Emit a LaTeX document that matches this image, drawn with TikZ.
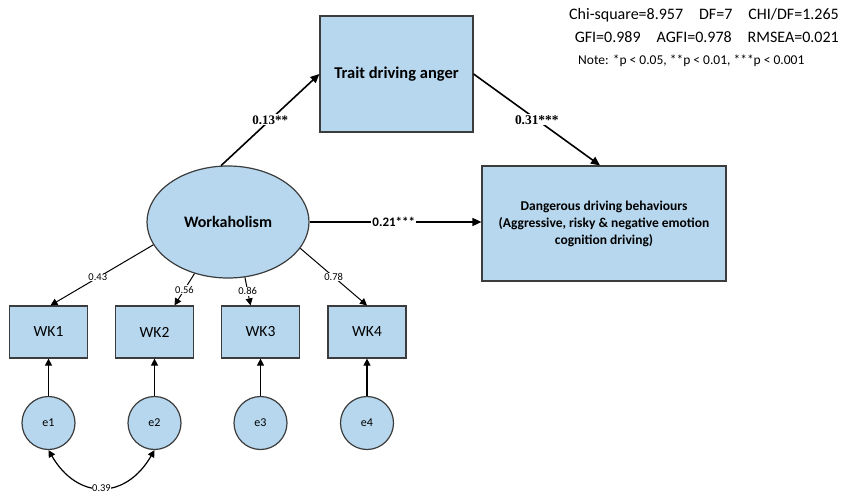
\documentclass[tikz,border=0pt]{standalone}
\usepackage{fontspec}
\setmainfont{Carlito}
\newfontfamily\serifb{Liberation Serif}
\usetikzlibrary{shapes.geometric,arrows.meta,calc}
\definecolor{boxfill}{RGB}{182,215,238}
\definecolor{boxline}{RGB}{60,60,60}
\tikzset{
  boxnode/.style={draw=boxline,line width=1.2pt,fill=boxfill,rectangle,inner sep=0pt,align=center},
  ovalnode/.style={draw=boxline,line width=1.2pt,fill=boxfill,ellipse,inner sep=0pt},
  errnode/.style={draw=boxline,line width=1.2pt,fill=boxfill,circle,inner sep=0pt,minimum size=53pt,font=\fontsize{12}{14}\selectfont},
  mainarrow/.style={draw=black,line width=1.6pt,-{Triangle[length=9pt,width=8pt]}},
  loadarrow/.style={draw=black,line width=1pt,-{Triangle[length=7pt,width=7pt]}},
  lbl/.style={fill=white,inner sep=1pt},
  smalllbl/.style={fill=white,inner sep=0.5pt,font=\fontsize{10.5}{12}\selectfont},
}
\begin{document}
\begin{tikzpicture}[x=1pt,y=-1pt]
\useasboundingbox[fill=white] (0,0) rectangle (842,492);
% nodes
\node[boxnode,minimum width=153pt,minimum height=116pt,font=\bfseries\fontsize{16.5}{19}\selectfont] (trait) at (396.5,74) {Trait driving anger};
\node[boxnode,minimum width=244pt,minimum height=115pt,font=\bfseries\fontsize{13.5}{17}\selectfont] (dang) at (604,223.5) {Dangerous driving behaviours\\(Aggressive, risky \& negative emotion\\cognition driving)};
\node[ovalnode,minimum width=162pt,minimum height=112pt,font=\bfseries\fontsize{16}{19}\selectfont] (wa) at (228,222) {Workaholism};
\foreach \i/\x in {1/48.5,2/154.5,3/260.5,4/367}{
  \node[boxnode,minimum width=78pt,minimum height=52pt,font=\fontsize{15.5}{18}\selectfont] (wk\i) at (\x,332) {WK\i};
  \node[errnode] (e\i) at (\x,423) {e\i};
}
% fit text
\node[anchor=east,inner sep=0pt,font=\fontsize{16}{18}\selectfont] (fit1) at (839,15) {Chi-square=8.957\quad DF=7\quad CHI/DF=1.265};
\node[anchor=east,inner sep=0pt,font=\fontsize{16}{18}\selectfont] (fit2) at (839,37) {GFI=0.989\quad AGFI=0.978\quad RMSEA=0.021};
\node[anchor=west,inner sep=0pt,font=\fontsize{13.5}{15}\selectfont] (note) at (578,61) {Note: *p < 0.05, **p < 0.01, ***p < 0.001};
% structural arrows
\draw[mainarrow] (wa.97) -- node[lbl,pos=0.5,font=\serifb\bfseries\fontsize{13}{15}\selectfont]{0.13**} (trait.west);
\draw[mainarrow] (trait.east) -- node[lbl,pos=0.5,font=\serifb\bfseries\fontsize{13.4}{15}\selectfont]{0.31***} ($(dang.north)+(-4,0)$);
\draw[mainarrow] (wa.east) -- node[lbl,pos=0.49,font=\bfseries\fontsize{13}{15}\selectfont]{0.21***} (wa.east -| dang.west);
% loadings
\draw[loadarrow] (wa.197) -- node[smalllbl,pos=0.54]{0.43} ($(wk1.north)+(2,0)$);
\draw[loadarrow] (wa.237) -- node[smalllbl,pos=0.5]{0.56} ($(wk2.north)+(20,0)$);
\draw[loadarrow] (wa.287) -- node[smalllbl,pos=0.5]{0.86} ($(wk3.north)+(-10,0)$);
\draw[loadarrow] (wa.340) -- node[smalllbl,pos=0.5]{0.78} (wk4.north);
% errors
\foreach \i in {1,2,3,4}{
  \draw[loadarrow,line width=1.2pt] (e\i.north) -- (wk\i.south);
}
\draw[line width=1.2pt,{Triangle[length=7pt,width=7pt]}-{Triangle[length=7pt,width=7pt]}] (e1.south) to[out=-60,in=-120,looseness=1.4] node[smalllbl,pos=0.5]{0.39} (e2.south);
\end{tikzpicture}
\end{document}
